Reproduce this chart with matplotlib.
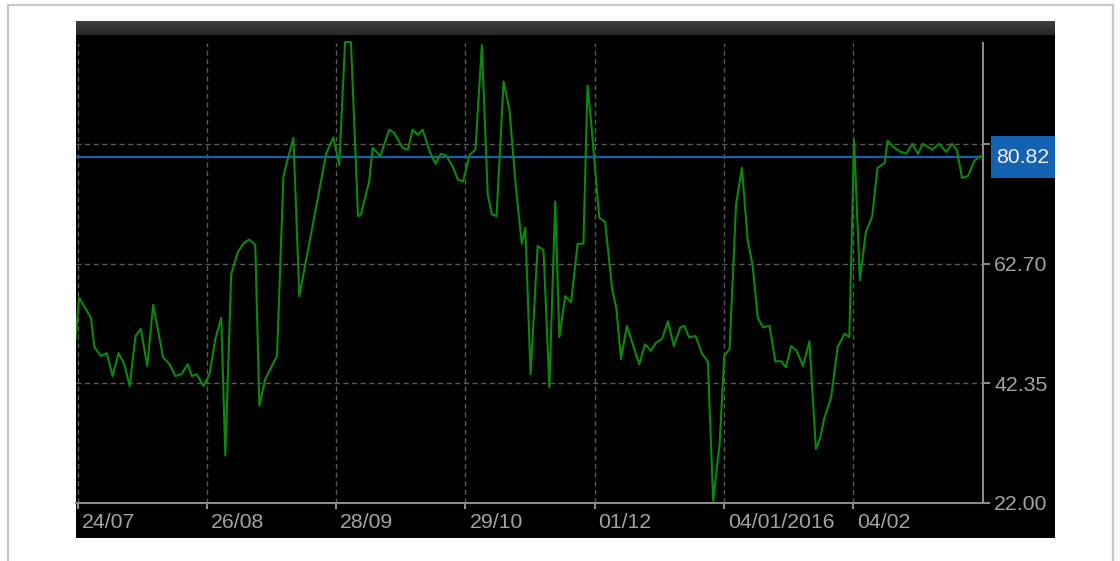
import numpy as np
import matplotlib
matplotlib.use('Agg')
import matplotlib.pyplot as plt
from matplotlib.patches import Rectangle
from matplotlib.transforms import blended_transform_factory, ScaledTranslation

# ---------------- data (bar position, value) ----------------
bar_pos = [-0.7, 0.2, 2.2, 2.8, 3.9, 4.9, 5.9, 6.9, 7.9, 8.8, 9.8, 10.7, 11.8, 12.8,
           14.5, 15.6, 16.6, 17.6, 18.7, 19.4, 20.2, 21.4, 22.4, 23.4, 24.4, 25.1,
           26.1, 27.2, 28.3, 29.2, 30.2, 30.9, 31.9, 33.9, 35.0, 35.7, 36.7, 37.7,
           42.3, 43.5, 44.5, 45.5, 46.5, 47.7, 48.2, 49.6, 50.2, 51.5, 53.0, 53.9,
           55.3, 56.2, 57.0, 57.9, 58.7, 59.9, 60.9, 61.8, 62.7, 63.8, 64.7, 65.6,
           66.7, 67.7, 68.8, 69.8, 70.5, 71.3, 72.5, 73.5, 74.6, 75.6, 76.2, 77.1,
           78.3, 79.3, 80.3, 81.3, 82.0, 83.0, 84.0, 85.1, 86.1, 86.8, 87.4, 88.8,
           89.8, 91.0, 91.7, 92.5, 93.5, 95.6, 96.6, 97.6, 98.5, 99.5, 100.5, 101.5,
           102.6, 103.3, 104.1, 105.2, 106.3, 107.3, 108.2, 109.3, 110.1, 111.0,
           112.1, 113.1, 114.1, 114.9, 115.8, 116.7, 117.8, 118.8, 119.8, 120.6,
           121.5, 122.4, 123.5, 124.6, 125.7, 126.4, 127.1, 128.3, 129.4, 130.6,
           131.4, 132.2, 133.2, 134.2, 135.3, 136.2, 137.4, 137.9, 139.1, 140.0,
           141.1, 142.1, 143.1, 143.9, 145.5, 146.7, 147.9, 148.9, 149.7, 150.6,
           151.6, 152.7, 153.7, 154.3]
values = [47.0, 56.9, 53.5, 48.5, 47.0, 47.5, 43.6, 47.5, 45.6, 41.9, 50.4, 51.6, 45.3, 55.7,
          46.8, 45.6, 43.6, 43.9, 45.6, 43.6, 43.9, 41.9, 43.9, 49.9, 53.5, 30.1,
          60.9, 64.6, 66.3, 66.8, 65.9, 38.6, 43.1, 47.0, 77.6, 80.4, 84.1, 57.2,
          81.5, 84.2, 79.5, 100.4, 100.4, 70.8, 71.1, 76.7, 82.4, 81.0, 85.5, 84.9,
          82.4, 82.1, 85.5, 84.6, 85.5, 81.8, 79.7, 81.4, 81.1, 79.3, 77.0, 76.7,
          81.2, 82.1, 99.9, 74.5, 71.1, 70.8, 93.7, 88.9, 75.6, 66.1, 68.8, 43.9,
          65.7, 65.0, 41.7, 73.3, 50.2, 57.2, 56.1, 66.1, 66.1, 93.0, 86.9, 70.5,
          69.8, 58.3, 55.2, 46.5, 52.1, 45.6, 49.0, 47.9, 49.3, 49.9, 52.9, 48.7,
          51.9, 52.1, 50.2, 50.4, 47.4, 46.1, 22.4, 32.1, 47.0, 48.2,
          72.8, 79.0, 66.5, 62.6, 53.5, 51.9, 52.1, 46.1, 46.1, 45.1,
          48.7, 47.9, 45.3, 49.5, 31.2, 32.9, 36.3, 40.0, 48.5, 50.8,
          50.2, 83.8, 59.9, 68.0, 70.8, 79.0, 79.8, 83.6, 82.4, 81.8,
          81.4, 83.1, 81.4, 83.1, 82.1, 83.1, 81.7, 83.1, 82.1, 77.3,
          77.6, 80.2, 81.0, 80.82]
tick_pos = [0, 22, 44, 66, 88, 110, 132]
tick_labels = ['24/07', '26/08', '28/09', '29/10', '01/12', '04/01/2016', '04/02']
y_ticks = [22.00, 42.35, 62.70, 83.05]
last_value = 80.82

# ---------------- figure ----------------
W, H = 1120, 561
fig = plt.figure(figsize=(W / 100, H / 100), dpi=100)
fig.patch.set_facecolor('white')


def fx(px):
    return px / W


def fy(py):
    return 1 - py / H


FONT = ['Liberation Sans', 'DejaVu Sans']
TXT = '#a2a2a2'
FS = 15.3

# outer light border
fig.add_artist(Rectangle((fx(8), fy(580)), fx(1113 - 8), (580 - 5) / H,
                         transform=fig.transFigure, fill=False, ec='#c8c8c8', lw=1.6,
                         zorder=-10))
# black chart panel
fig.add_artist(Rectangle((fx(76), fy(538)), fx(1055 - 76), (538 - 21) / H,
                         transform=fig.transFigure, fc='black', ec='none', zorder=-9))

# header bar with gradient
hax = fig.add_axes([fx(76), fy(35), fx(1055 - 76), 14 / H])
grad = np.linspace(0, 1, 32).reshape(-1, 1)
hax.imshow(grad, aspect='auto', cmap=matplotlib.colors.LinearSegmentedColormap.from_list(
    'hdr', ['#3e3e3e', '#2a2a2a']), extent=[0, 1, 0, 1])
hax.set_axis_off()

# main plot axes
ax = fig.add_axes([fx(76), fy(503), fx(983 - 76), (503 - 35) / H])
ax.set_facecolor('black')
ax.set_xlim(-0.34, 154.17)
ax.set_ylim(22.0, 101.6)

for s in ['top', 'left']:
    ax.spines[s].set_visible(False)
for s in ['bottom', 'right']:
    ax.spines[s].set_color('#8a8a8a')
    ax.spines[s].set_linewidth(1.5)
ax.spines['right'].set_bounds(22.0, 100.2)

grid_kw = dict(color='#5a5a5a', lw=1.0, ls=(0, (3.6, 2.6)), zorder=1)
for t in tick_pos:
    ax.axvline(t, ymin=0, ymax=0.983, **grid_kw)
ax.axvline(154.17, ymin=0, ymax=0.983, **grid_kw)
for yv in y_ticks[1:]:
    ax.axhline(yv, **grid_kw)

ax.axhline(last_value, color='#1a5cad', lw=1.6, zorder=2)
ax.plot(bar_pos, values, color='#0a8a0a', lw=1.5, zorder=3)

# ticks
ax.yaxis.tick_right()
ax.set_yticks(y_ticks)
ax.set_yticklabels([f'{v:.2f}' for v in y_ticks], fontfamily=FONT)
ax.set_xticks(tick_pos)
ax.set_xticklabels(tick_labels, fontfamily=FONT)
ax.tick_params(axis='y', direction='out', length=5, width=1.5, color='#8a8a8a',
               labelcolor=TXT, labelsize=FS, pad=3)
ax.tick_params(axis='x', direction='out', length=4.5, width=1.5, color='#8a8a8a',
               labelcolor=TXT, labelsize=FS, pad=3)
offset = ScaledTranslation(4 / 100, 0, fig.dpi_scale_trans)
for lbl in ax.get_xticklabels():
    lbl.set_horizontalalignment('left')
    lbl.set_transform(lbl.get_transform() + offset)

# last value box
trans = blended_transform_factory(ax.transAxes, ax.transData)
ax.add_patch(Rectangle((1.0088, last_value - 3.57), 0.0706, 7.14, transform=trans,
                       clip_on=False, fc='#1463b3', ec='none', zorder=5))
ax.text(1.0441, last_value, f'{last_value:.2f}', transform=trans, ha='center', va='center',
        color='#f0f0f0', fontsize=FS, fontfamily=FONT, zorder=6, clip_on=False)

fig.savefig('out.png', dpi=100, facecolor='white')
